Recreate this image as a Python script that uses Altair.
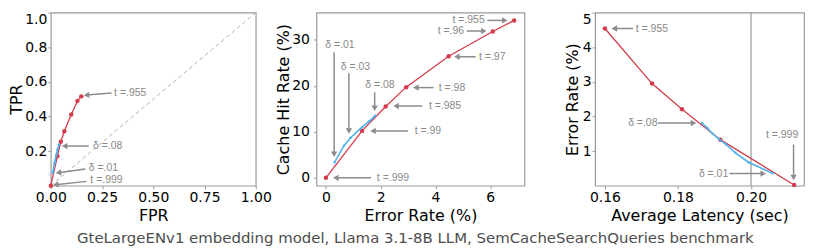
import math
import altair as alt
import pandas as pd

# ---------------- data ----------------
thresholds = [".955", ".96", ".97", ".98", ".985", ".99", ".999"]

# Panel 1: ROC
roc_fpr = [0.149, 0.130, 0.100, 0.066, 0.049, 0.032, 0.0]
roc_tpr = [0.516, 0.489, 0.411, 0.315, 0.254, 0.170, 0.0]
roc_blue_fpr = [0.010, 0.018, 0.026, 0.033, 0.040]
roc_blue_tpr = [0.075, 0.130, 0.175, 0.210, 0.238]
diag = [0.0, 1.0]

# Panel 2: cache hit rate vs error rate
err_red = [6.87, 6.09, 4.48, 2.93, 2.18, 1.32, 0.0]
hit_red = [34.2, 31.8, 26.4, 19.7, 15.5, 10.2, 0.0]
err_blue = [0.32, 0.66, 0.90, 1.32, 1.58, 1.80]
hit_blue = [3.4, 7.0, 8.7, 11.0, 12.3, 13.5]

# Panel 3: error rate vs latency
lat_red = [0.1600, 0.1729, 0.1811, 0.1916, 0.2118]
er_red = [4.54, 2.95, 2.21, 1.33, 0.02]
lat_blue = [0.1866, 0.1880, 0.1895, 0.1914, 0.1932, 0.1957, 0.1994, 0.2059]
er_blue = [1.81, 1.67, 1.50, 1.33, 1.19, 0.95, 0.67, 0.36]
latency_limit = [0.20]

caption = "GteLargeENv1 embedding model, Llama 3.1-8B LLM, SemCacheSearchQueries benchmark"

# annotations: (label, x, y) and arrows (tail x, tail y, tip x, tip y)
p1_labels = [("t =.955", 0.309, 0.535), ("δ =.08", 0.206, 0.229),
             ("δ =.01", 0.185, 0.105), ("t =.999", 0.193, 0.033)]
p1_arrows = [(0.296, 0.535, 0.161, 0.522), (0.185, 0.229, 0.054, 0.229),
             (0.169, 0.096, 0.024, 0.073), (0.174, 0.025, 0.011, 0.004)]

p2_labels = [("t =.955", 4.62, 34.2), ("t =.96", 4.08, 31.9), ("t =.97", 5.59, 26.3),
             ("t =.98", 4.12, 19.6), ("t =.985", 3.76, 15.6), ("t =.99", 3.24, 10.2),
             ("t =.999", 1.86, 0.0), ("δ =.01", -0.02, 28.9), ("δ =.03", 0.54, 24.1),
             ("δ =.08", 1.44, 20.1)]
p2_arrows = [(5.89, 34.2, 6.63, 34.2), (5.14, 31.9, 5.86, 31.9), (5.47, 26.3, 4.68, 26.3),
             (3.93, 19.6, 3.18, 19.6), (3.52, 15.6, 2.46, 15.6), (3.00, 10.2, 1.62, 10.2),
             (1.65, 0.0, 0.26, 0.0), (0.30, 27.3, 0.30, 4.5), (0.84, 22.7, 0.84, 9.6),
             (1.78, 18.6, 1.78, 14.5)]

p3_labels = [("t =.955", 0.16845, 4.52), ("δ =.08", 0.16636, 1.81),
             ("t =.999", 0.2041, 1.45), ("δ =.01", 0.18573, 0.35)]
p3_arrows = [(0.16773, 4.54, 0.16182, 4.54), (0.17455, 1.81, 0.1850, 1.81),
             (0.21164, 1.19, 0.21164, 0.16), (0.19409, 0.35, 0.2041, 0.35)]

# ---------------- style ----------------
RED = "#d43c4c"
BLUE = "#4db3ee"
GREY = "#8c8c8c"
H = 174
W1, W2, W3 = 206, 209, 210
GAP1, GAP2 = 61, 71
HEAD_R = 3.2


def arrow_tables(arrows, xdom, ydom, w, h):
    sx = w / (xdom[1] - xdom[0])
    sy = h / (ydom[1] - ydom[0])
    shafts, heads = [], []
    for x0, y0, x1, y1 in arrows:
        dxp = (x1 - x0) * sx
        dyp = -(y1 - y0) * sy
        L = math.hypot(dxp, dyp)
        ux, uy = dxp / L, dyp / L
        back = 0.866 * HEAD_R
        hx = x1 - ux * back / sx
        hy = y1 + uy * back / sy
        ang = math.degrees(math.atan2(dyp, dxp)) % 360
        shafts.append(dict(x=x0, y=y0, x2=hx, y2=hy))
        heads.append(dict(x=hx, y=hy, ang=ang))
    return pd.DataFrame(shafts), pd.DataFrame(heads)


def panel(xdom, ydom, w, xaxis, yaxis, red, blue, labels, arrows, extra=None):
    X = alt.X("x:Q", scale=alt.Scale(domain=xdom, nice=False, zero=False), axis=xaxis)
    Y = alt.Y("y:Q", scale=alt.Scale(domain=ydom, nice=False, zero=False), axis=yaxis)
    red_df = pd.DataFrame({"x": red[0], "y": red[1]})
    blue_df = pd.DataFrame({"x": blue[0], "y": blue[1]})
    lab_df = pd.DataFrame(labels, columns=["label", "x", "y"])
    shafts, heads = arrow_tables(arrows, xdom, ydom, w, H)
    layers = []
    if extra is not None:
        layers.append(extra(X, Y))
    layers += [
        alt.Chart(red_df).mark_line(color=RED, strokeWidth=1.3).encode(x=X, y=Y),
        alt.Chart(red_df).mark_circle(color=RED, size=20, opacity=1).encode(x=X, y=Y),
        alt.Chart(blue_df).mark_line(color=BLUE, strokeWidth=1.6).encode(x=X, y=Y),
        alt.Chart(blue_df).mark_circle(color=BLUE, size=6, opacity=1).encode(x=X, y=Y),
        alt.Chart(shafts).mark_rule(color=GREY, strokeWidth=1.5).encode(
            x=X, y=Y, x2="x2:Q", y2="y2:Q"),
        alt.Chart(heads).mark_point(shape="triangle-right", filled=True, color=GREY,
                                    size=(2 * HEAD_R) ** 2, opacity=1, strokeWidth=0).encode(
            x=X, y=Y, angle=alt.Angle("ang:Q", scale=None)),
        alt.Chart(lab_df).mark_text(align="left", baseline="middle", font="Liberation Sans",
                                    fontSize=10.5, color="#888888").encode(
            x=X, y=Y, text="label:N"),
    ]
    return alt.layer(*layers).properties(width=w, height=H)


def diag_layer(X, Y):
    return alt.Chart(pd.DataFrame({"x": diag, "y": diag})).mark_line(
        color="#b0b0b0", strokeWidth=1, strokeDash=[4, 3]).encode(x=X, y=Y)


def vline_layer(X, Y):
    return alt.Chart(pd.DataFrame({"x": latency_limit})).mark_rule(
        color="#999999", strokeWidth=1.2).encode(x=X)


p1 = panel(
    [0, 1], [0, 1], W1,
    alt.Axis(title="FPR", values=[0, 0.25, 0.5, 0.75, 1.0], format=".2f", labelFlush=False,
             labelPadding=1.5, titlePadding=3),
    alt.Axis(title="TPR", values=[0.2, 0.4, 0.6, 0.8, 1.0], format=".1f", labelFlush=True,
             labelPadding=1, titlePadding=0),
    (roc_fpr, roc_tpr), (roc_blue_fpr, roc_blue_tpr), p1_labels, p1_arrows, diag_layer)

p2 = panel(
    [-0.345, 7.245], [-1.71, 35.9], W2,
    alt.Axis(title="Error Rate (%)", values=[0, 2, 4, 6], format="d", labelFlush=False,
             labelPadding=1.5, titlePadding=3),
    alt.Axis(title="Cache Hit Rate (%)", values=[0, 10, 20, 30], format="d",
             labelPadding=4, titlePadding=0),
    (err_red, hit_red), (err_blue, hit_blue), p2_labels, p2_arrows)

p3 = panel(
    [0.1573, 0.2145], [0, 5], W3,
    alt.Axis(title="Average Latency (sec)", values=[0.16, 0.18, 0.20], format=".2f",
             labelFlush=False, labelPadding=1.5, titlePadding=3),
    alt.Axis(title="Error Rate (%)", values=[1, 2, 3, 4, 5], format="d", labelFlush=True,
             labelPadding=1, titlePadding=2),
    (lat_red, er_red), (lat_blue, er_blue), p3_labels, p3_arrows, vline_layer)


def spacer(w):
    return alt.Chart(pd.DataFrame({"v": [0]})).mark_point(opacity=0).encode(
        x=alt.value(0), y=alt.value(0)).properties(
        width=w, height=H, view=alt.ViewBackground(stroke="transparent"))


chart = alt.hconcat(
    p1, spacer(GAP1), p2, spacer(GAP2), p3,
    spacing=0, bounds="flush", padding=0, background="white",
    title=alt.TitleParams(text=caption, orient="bottom", anchor="middle",
                          font="DejaVu Sans", fontSize=15, fontWeight="normal",
                          color="#4d4d4d", offset=7, dx=9),
).configure_axis(
    labelFont="DejaVu Sans", labelFontSize=14, labelColor="black",
    titleFont="DejaVu Sans", titleFontSize=16, titleFontWeight="normal", titleColor="black",
    tickColor="#999999", tickSize=3, domain=False, grid=False,
).configure_view(
    stroke="#999999", strokeWidth=1.2
)

chart.save("out.html", embed_options={"renderer": "svg", "actions": False})
